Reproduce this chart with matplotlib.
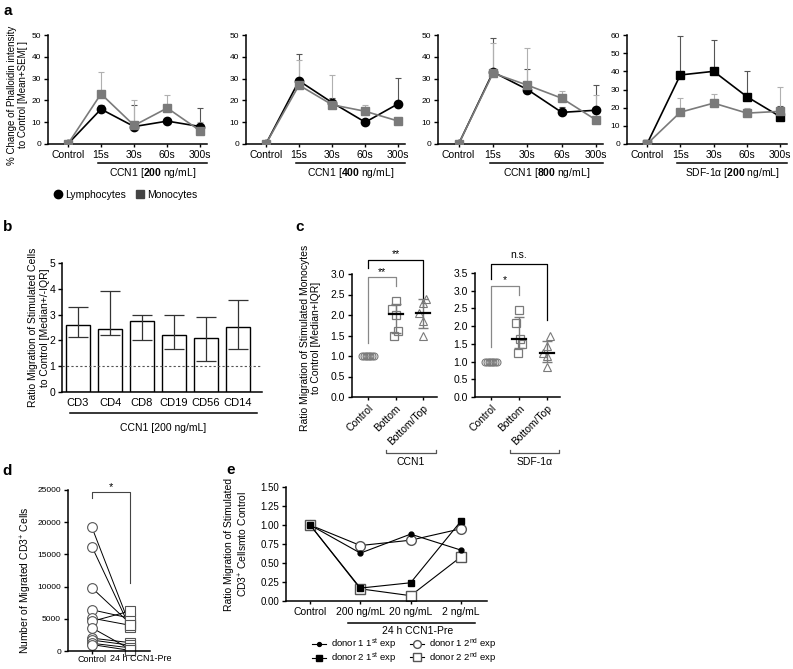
import numpy as np
import matplotlib
matplotlib.use('Agg')
import matplotlib.pyplot as plt
from matplotlib.lines import Line2D

plt.rcParams['font.family'] = ['Liberation Sans', 'DejaVu Sans']
plt.rcParams['mathtext.fontset'] = 'custom'
plt.rcParams['mathtext.rm'] = 'Liberation Sans'
plt.rcParams['mathtext.bf'] = 'Liberation Sans:bold'
plt.rcParams['mathtext.it'] = 'Liberation Sans:italic'

W, H = 793, 669

# ---- panel a data ----
time_labels = ['Control', '15s', '30s', '60s', '300s']
a_captions = [r'CCN1 [$\mathbf{200}$ ng/mL]', r'CCN1 [$\mathbf{400}$ ng/mL]',
              r'CCN1 [$\mathbf{800}$ ng/mL]', r'SDF-1α [$\mathbf{200}$ ng/mL]']
a_ymax = [50, 50, 50, 60]
lymph_mean = [[0, 16, 8, 10.5, 8], [0, 29, 19, 10, 18.5],
              [0, 33, 25, 14.5, 15.5], [0, 38, 40, 26, 15]]
lymph_top = [[0, 18, 18, 12, 16.7], [0, 41.5, 21, 11, 30.5],
             [0, 48.7, 34.5, 17, 27.2], [0, 59.5, 57.5, 40.3, 21]]
mono_mean = [[0, 23, 8.5, 16.5, 6], [0, 27, 18, 15, 10.5],
             [0, 32.5, 27, 21, 11], [0, 17.5, 22.5, 17, 18]]
mono_top = [[0, 33, 20, 22.7, 10], [0, 38.7, 31.5, 18, 12],
            [0, 46.5, 44, 24.5, 22.7], [0, 25.5, 27.3, 20, 31.5]]

# ---- panel b data ----
b_cells = ['CD3', 'CD4', 'CD8', 'CD19', 'CD56', 'CD14']
b_median = [2.6, 2.45, 2.75, 2.22, 2.1, 2.5]
b_low = [2.15, 2.2, 2.0, 1.65, 1.22, 1.65]
b_high = [3.28, 3.9, 3.0, 2.98, 2.92, 3.55]

# ---- panel c data ----
c_groups = ['Control', 'Bottom', 'Bottom/Top']
c_ccn1_bottom = [2.35, 2.15, 2.0, 1.6, 1.5]
c_ccn1_bt = [2.4, 2.3, 2.05, 1.85, 1.5]
c_sdf_bottom = [2.45, 2.1, 1.65, 1.5, 1.25]
c_sdf_bt = [1.72, 1.45, 1.25, 1.15, 0.85]
c_control = [1.0] * 8
c_ccn1_stats = [(2.03, 1.55, 2.27), (2.04, 1.68, 2.38)]   # median, q1, q3
c_sdf_stats = [(1.65, 1.38, 2.27), (1.24, 1.0, 1.57)]

# ---- panel d data ----
d_labels = ['Control', '24 h CCN1-Pre']
d_control = [19200, 16200, 9800, 6400, 5100, 4600, 3600, 2000, 1700, 1200, 1000]
d_pre = [4000, 3700, 4300, 5100, 4000, 6200, 300, 1300, 900, 500, 100]

# ---- panel e data ----
e_labels = ['Control', '200 ng/mL', '20 ng/mL', '2 ng/mL']
d1_1st = [1.0, 0.63, 0.88, 0.67]
d2_1st = [1.0, 0.17, 0.24, 1.05]
d1_2nd = [1.0, 0.73, 0.80, 0.95]
d2_2nd = [1.0, 0.16, 0.07, 0.58]

fig = plt.figure(figsize=(W / 100, H / 100), dpi=100)


def px_axes(l, t, r, b):
    return fig.add_axes([l / W, 1 - b / H, (r - l) / W, (b - t) / H])


def style(ax, fs=7):
    for s in ['top', 'right']:
        ax.spines[s].set_visible(False)
    for s in ['left', 'bottom']:
        ax.spines[s].set_linewidth(1.1)
    ax.tick_params(direction='out', length=3, width=1, labelsize=fs, pad=2)


def ftext(x, y, s, **kw):
    fig.text(x / W, 1 - y / H, s, **kw)


# ================= panel a =================
a_boxes = [(48, 207), (246, 405), (438, 603), (627, 787)]
x = np.arange(5)
for i, (l, r) in enumerate(a_boxes):
    ax = px_axes(l, 35, r, 144)
    style(ax, 6)
    ax.tick_params(axis='x', labelsize=7.5, length=2)
    lm = np.array(lymph_mean[i])
    mm = np.array(mono_mean[i])
    le = np.array(lymph_top[i]) - lm
    me = np.array(mono_top[i]) - mm
    ax.errorbar(x[1:], lm[1:], yerr=[np.zeros(4), le[1:]], fmt='none',
                ecolor='#555555', elinewidth=0.8, capsize=2.5, capthick=0.8, zorder=1)
    ax.errorbar(x[1:], mm[1:], yerr=[np.zeros(4), me[1:]], fmt='none',
                ecolor='#b0b0b0', elinewidth=0.8, capsize=2.5, capthick=0.8, zorder=1)
    lmk = 's' if i == 3 else 'o'
    ax.plot(x, lm, color='black', marker=lmk, ms=6 if lmk == 'o' else 5.5, lw=1.2, zorder=3)
    ax.plot(x, mm, color='#7a7a7a', marker='s', ms=5.5, lw=1.2, zorder=4)
    ax.set_xlim(-0.6, 4.2)
    ax.set_ylim(0, a_ymax[i])
    ax.set_yticks(np.arange(0, a_ymax[i] + 1, 10))
    ax.set_xticks(x)
    ax.set_xticklabels(time_labels)
    tr = ax.get_xaxis_transform()
    ax.plot([0.9, 4.2], [-0.174, -0.174], color='black', lw=1.1, transform=tr, clip_on=False)
    ax.text(2.55, -0.27, a_captions[i], transform=tr, ha='center', va='center', fontsize=7.5)
    if i == 0:
        ax.set_ylabel('% Change of Phalloidin intensity\nto Control [Mean+SEM[ ]', fontsize=7)
        ax.yaxis.set_label_coords(-0.125, 0.45)

fig.legend(handles=[Line2D([], [], marker='o', ls='none', color='black', ms=6),
                    Line2D([], [], marker='s', ls='none', color='#444444', ms=6)],
           labels=['Lymphocytes', 'Monocytes'], loc='center left',
           bbox_to_anchor=(53 / W, 1 - 195 / H), ncol=2, frameon=False,
           handletextpad=0.2, columnspacing=0.8, fontsize=7.5, borderaxespad=0,
           borderpad=0, handlelength=1)

# ================= panel b =================
ax = px_axes(62, 263, 262, 392)
style(ax, 7.5)
ax.tick_params(axis='x', length=0, labelsize=8, pad=4)
xb = np.arange(len(b_cells))
med = np.array(b_median)
ax.bar(xb, med, width=0.72, color='white', edgecolor='black', linewidth=1, zorder=2)
ax.errorbar(xb, med, yerr=[med - np.array(b_low), np.array(b_high) - med], fmt='none',
            ecolor='#333333', elinewidth=0.9, capsize=7, capthick=0.9, zorder=3)
ax.axhline(1, ls=(0, (2, 2)), color='#555555', lw=0.8, zorder=4)
ax.set_xlim(-0.5, 5.75)
ax.set_ylim(0, 5)
ax.set_yticks(range(6))
ax.set_xticks(xb)
ax.set_xticklabels(b_cells)
tr = ax.get_xaxis_transform()
ax.plot([-0.25, 5.6], [-0.163, -0.163], color='black', lw=1.1, transform=tr, clip_on=False)
ax.text(2.65, -0.28, 'CCN1 [200 ng/mL]', transform=tr, ha='center', va='center', fontsize=7.5)
ax.set_ylabel('Ratio Migration of Stimulated Cells\nto Control [Median+/-IQR]', fontsize=7.5)
ax.yaxis.set_label_coords(-0.06, 0.5)

# ================= panel c =================
gray = '#7a7a7a'


def c_panel(ax, bottom, bt, stats, ymax, brackets, caption, cx):
    style(ax, 7.5)
    ax.tick_params(axis='x', labelsize=7.5, length=2.5)
    ctrl_off = np.linspace(-0.2, 0.2, len(c_control))
    ax.plot(0 + ctrl_off, c_control, ls='none', marker='o', ms=5, mfc='none', mec=gray, mew=0.8, clip_on=False)
    jit = [0.0, -0.12, 0.02, 0.1, -0.05]
    ax.plot(1 + np.array(jit), bottom, ls='none', marker='s', ms=5.5, mfc='none', mec=gray, mew=0.9)
    jit2 = [0.1, 0.0, -0.14, 0.0, 0.0]
    ax.plot(2 + np.array(jit2), bt, ls='none', marker='^', ms=5.5, mfc='none', mec=gray, mew=0.8)
    for k, (m, q1, q3) in enumerate(stats):
        xp = k + 1
        ax.errorbar([xp], [m], yerr=[[m - q1], [q3 - m]], fmt='none', ecolor=gray,
                    elinewidth=1, capsize=3.5, capthick=1, zorder=3)
        ax.plot([xp - 0.25, xp + 0.25], [m, m], color='black', lw=1.6, zorder=4)
    ax.set_ylim(0, ymax)
    ax.set_yticks(np.arange(0, ymax + 0.01, 0.5))
    ax.set_yticklabels(['%.1f' % v for v in np.arange(0, ymax + 0.01, 0.5)])
    ax.set_xticks(range(3))
    ax.set_xticklabels(c_groups, rotation=45, ha='right', rotation_mode='anchor')
    for (x0, x1, ytop, yl, yr, label, col, ylab) in brackets:
        ax.plot([x0, x0, x1, x1], [yl, ytop, ytop, yr], color=col, lw=0.9, clip_on=False)
        ax.text((x0 + x1) / 2, ylab, label, ha='center', va='center', fontsize=7.5)
    tr = ax.get_xaxis_transform()
    ax.plot([cx[0], cx[0], cx[1], cx[1]], [-0.43, -0.455, -0.455, -0.43], color='#555555',
            lw=0.9, transform=tr, clip_on=False)
    ax.text((cx[0] + cx[1]) / 2, -0.525, caption, transform=tr, ha='center', va='center', fontsize=7.5)


ax = px_axes(352, 274, 437, 397)
ax.set_xlim(-0.58, 2.5)
c_panel(ax, c_ccn1_bottom, c_ccn1_bt, c_ccn1_stats, 3.0,
        [(0, 1, 2.93, 1.32, 2.71, '**', '#888888', 3.05),
         (0, 2, 3.34, 3.15, 2.2, '**', 'black', 3.48)],
        'CCN1', (0.65, 2.47))
ax.set_ylabel('Ratio Migration of Stimulated Monocytes\nto Control [Median+IQR]', fontsize=7.5)
ax.yaxis.set_label_coords(-0.36, 0.48)

ax = px_axes(475, 273, 560, 397)
ax.set_xlim(-0.57, 2.46)
c_panel(ax, c_sdf_bottom, c_sdf_bt, c_sdf_stats, 3.5,
        [(0, 1, 3.13, 1.41, 2.88, '*', '#888888', 3.3),
         (0, 2, 3.76, 3.33, 2.17, 'n.s.', 'black', 4.02)],
        'SDF-1α', (0.68, 2.43))

# ================= panel d =================
ax = px_axes(68, 490, 150, 651)
style(ax, 6)
ax.tick_params(axis='x', labelsize=6.5, length=2, pad=1)
for c, p in zip(d_control, d_pre):
    ax.plot([0, 1], [c, p], color='black', lw=0.7, zorder=1)
ax.plot(np.zeros(len(d_control)), d_control, ls='none', marker='o', ms=7, mfc='white',
        mec='#555555', mew=0.8, zorder=2, clip_on=False)
ax.plot(np.ones(len(d_pre)), d_pre, ls='none', marker='s', ms=6.5, mfc='white',
        mec='#555555', mew=0.8, zorder=2, clip_on=False)
ax.set_xlim(-0.63, 1.53)
ax.set_ylim(0, 25000)
ax.set_yticks(range(0, 25001, 5000))
ax.set_xticks([0, 1])
ax.set_xticklabels([d_labels[0], ''])
tr = ax.get_xaxis_transform()
ax.text(0.47, -0.02, d_labels[1], transform=tr, ha='left', va='top', fontsize=6.5)
ax.plot([0, 0, 1, 1], [23800, 24700, 24700, 10500], color='#444444', lw=0.8, clip_on=False)
ax.text(0.5, 25400, '*', ha='center', va='center', fontsize=8)
ax.set_ylabel('Number of Migrated CD3$^{+}$ Cells', fontsize=7.5)
ax.yaxis.set_label_coords(-0.42, 0.44)

# ================= panel e =================
ax = px_axes(286, 487, 487, 601)
style(ax, 7)
ax.tick_params(axis='x', labelsize=7.5, length=2)
xe = np.arange(len(e_labels))
l1, = ax.plot(xe, d1_1st, color='black', lw=0.8, marker='o', ms=3.5, zorder=3)
l2, = ax.plot(xe, d2_1st, color='black', lw=0.8, marker='s', ms=5, zorder=3)
l3, = ax.plot(xe, d1_2nd, color='black', lw=0.8, marker='o', ms=7, mfc='white', mec='#555555', zorder=2)
l4, = ax.plot(xe, d2_2nd, color='black', lw=0.8, marker='s', ms=7, mfc='white', mec='#555555', zorder=2)
ax.set_xlim(-0.48, 3.52)
ax.set_ylim(0, 1.5)
ax.set_yticks(np.arange(0, 1.51, 0.25))
ax.set_yticklabels(['%.2f' % v for v in np.arange(0, 1.51, 0.25)])
ax.set_xticks(xe)
ax.set_xticklabels(e_labels)
tr = ax.get_xaxis_transform()
ax.plot([0.76, 3.28], [-0.19, -0.19], color='black', lw=1.1, transform=tr, clip_on=False)
ax.text(2.13, -0.265, '24 h CCN1-Pre', transform=tr, ha='center', va='center', fontsize=7.5)
ax.set_ylabel('Ratio Migration of Stimulated\nCD3$^{+}$ Cellsmto Control', fontsize=7.5)
ax.yaxis.set_label_coords(-0.18, 0.5)
fig.legend(handles=[l1, l2, l3, l4],
           labels=[r'donor 1 1$^{\mathrm{st}}$ exp', r'donor 2 1$^{\mathrm{st}}$ exp',
                   r'donor 1 2$^{\mathrm{nd}}$ exp', r'donor 2 2$^{\mathrm{nd}}$ exp'],
           loc='upper left', bbox_to_anchor=(312 / W, 1 - 636.5 / H), ncol=2, frameon=False,
           fontsize=6.8, handlelength=1.5, handletextpad=0.5, columnspacing=1.5,
           borderaxespad=0, borderpad=0, labelspacing=-0.1, markerscale=0.8)

# panel letters
for s, (px, py) in zip('abcde', [(8, 11), (8, 227), (300, 227), (7, 471), (231, 470)]):
    ftext(px, py, s, fontsize=11, fontweight='bold', ha='center', va='center')

fig.savefig('out.png', dpi=100)
